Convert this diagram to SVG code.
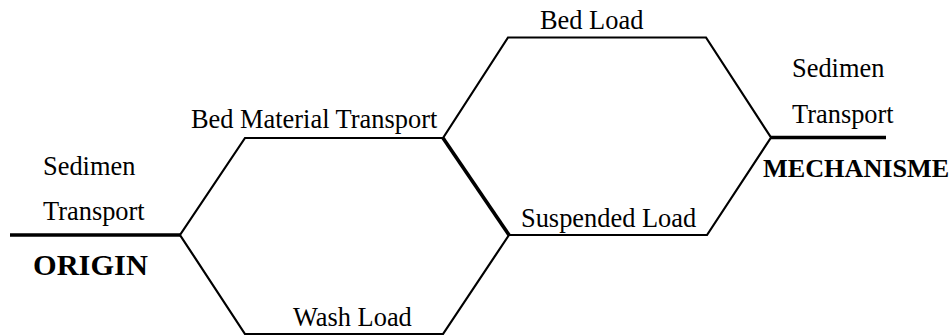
<svg xmlns="http://www.w3.org/2000/svg" width="952" height="335" viewBox="0 0 952 335">
<style>
.t{font-family:"Liberation Serif","Times New Roman",serif;font-size:26.4px;fill:#000}
.b{font-family:"Liberation Serif","Times New Roman",serif;font-weight:bold;fill:#000}
.thin{fill:none;stroke:#000;stroke-width:2.2;stroke-linejoin:miter}
.thick{fill:none;stroke:#000;stroke-width:3.6}
</style>
<rect width="952" height="335" fill="#fff"/>
<g id="connectors">
<line class="thick" x1="10" y1="235" x2="180" y2="235"/>
<line class="thick" x1="771" y1="137.5" x2="886" y2="137.5"/>
</g>
<g id="origin">
<text class="t" x="43" y="175">Sedimen</text>
<text class="t" x="43" y="220">Transport</text>
<text class="b" x="33" y="275" font-size="30.4">ORIGIN</text>
</g>
<g id="hex-material">
<polyline class="thin" points="443,138 245,138 180,235 245,334 443,334 509,235"/>
<line class="thick" x1="443" y1="138" x2="509" y2="235"/>
<text class="t" x="191" y="128">Bed Material Transport</text>
<text class="t" x="293" y="326">Wash Load</text>
</g>
<g id="hex-mechanism">
<polygon class="thin" points="443,138 508,37.5 706,37.5 771,137.5 707,235 509,235"/>
<text class="t" x="540" y="29">Bed Load</text>
<text class="t" x="521" y="227">Suspended Load</text>
</g>
<g id="mechanisme">
<text class="t" x="792" y="77">Sedimen</text>
<text class="t" x="792" y="123">Transport</text>
<text class="b" x="763" y="177" font-size="26.2">MECHANISME</text>
</g>
</svg>
